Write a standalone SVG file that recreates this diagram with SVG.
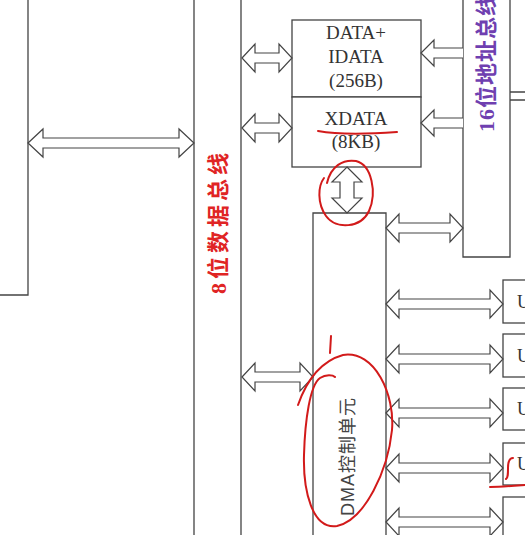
<svg xmlns="http://www.w3.org/2000/svg" width="525" height="535" viewBox="0 0 525 535">
<style>
.ln{fill:none;stroke:#444;stroke-width:1.3}
.bx{fill:#fff;stroke:#444;stroke-width:1.3}
.ar{fill:#fff;stroke:#444;stroke-width:1.2;stroke-linejoin:miter}
.mt{font-family:"Liberation Serif","Noto Sans CJK SC",serif;font-size:19px;fill:#333;text-anchor:middle}
.ut{font-family:"Liberation Serif",serif;font-size:18px;fill:#333}
.red{fill:none;stroke:#d21a1a;stroke-width:2;stroke-linecap:round;stroke-linejoin:round}
</style>
<rect width="525" height="535" fill="#fff"/>

<g id="left-block">
<path class="ln" d="M28,0 V295 H0"/>
</g>

<g id="data-bus">
<path class="ln" d="M194,0 V535 M241,0 V535"/>
<text transform="translate(218,294) rotate(-90)" font-family="'Liberation Serif','Noto Sans CJK SC',serif" font-size="22" font-weight="bold" letter-spacing="4" fill="#e02424" dominant-baseline="central">8位数据总线</text>
</g>

<g id="address-bus">
<path class="ln" d="M463,0 V257 H510 V0 M510,92 H525 M510,100 H525"/>
<text transform="translate(486,132) rotate(-90)" font-family="'Liberation Serif','Noto Sans CJK SC',serif" font-size="22" font-weight="bold" letter-spacing="1" fill="#6f3fb0" dominant-baseline="central">16位地址总线</text>
</g>

<g id="mem-data">
<rect class="bx" x="292" y="20" width="129" height="77"/>
<text class="mt" x="356" y="39">DATA+</text>
<text class="mt" x="356" y="63">IDATA</text>
<text class="mt" x="356" y="87">(256B)</text>
</g>

<g id="mem-xdata">
<rect class="bx" x="292" y="97" width="129" height="70"/>
<text class="mt" x="356" y="125">XDATA</text>
<text class="mt" x="356" y="148">(8KB)</text>
</g>

<g id="dma">
<path class="bx" d="M313,540 V213 H386 V540"/>
<text transform="translate(348,516) rotate(-90)" font-family="'Liberation Sans','Noto Sans CJK SC',sans-serif" font-size="18" letter-spacing="1" fill="#444" dominant-baseline="central">DMA控制单元</text>
</g>

<g id="u1"><rect class="bx" x="503" y="280" width="30" height="43"/><text class="ut" x="517" y="308">U</text></g>
<g id="u2"><rect class="bx" x="503" y="334" width="30" height="43"/><text class="ut" x="517" y="362">U</text></g>
<g id="u3"><rect class="bx" x="503" y="388" width="30" height="42"/><text class="ut" x="517" y="415">U</text></g>
<g id="u4"><rect class="bx" x="503" y="443" width="30" height="42"/><text class="ut" x="517" y="470">U</text></g>
<g id="u5"><rect class="bx" x="503" y="497" width="30" height="45"/></g>

<g id="connectors">
<path class="ar" d="M28,143 L43,129 L43,138 L179,138 L179,129 L194,143 L179,157 L179,148 L43,148 L43,157 Z"/>
<path class="ar" d="M242,58 L255,44 L255,53 L279,53 L279,44 L292,58 L279,72 L279,63 L255,63 L255,72 Z"/>
<path class="ar" d="M242,128 L255,114 L255,123 L279,123 L279,114 L292,128 L279,142 L279,133 L255,133 L255,142 Z"/>
<path class="ar" d="M463,48 L434,48 L434,40 L421,53 L434,66 L434,58 L463,58"/>
<path class="ar" d="M463,118 L434,118 L434,110 L421,123 L434,136 L434,128 L463,128"/>
<path class="ar" d="M347,167 L362,182 L354,182 L354,198 L362,198 L347,213 L332,198 L340,198 L340,182 L332,182 Z"/>
<path class="ar" d="M386,228 L399,214 L399,223 L450,223 L450,214 L463,228 L450,242 L450,233 L399,233 L399,242 Z"/>
<path class="ar" d="M242,377 L255,363 L255,372 L300,372 L300,363 L313,377 L300,391 L300,382 L255,382 L255,391 Z"/>
<path class="ar" d="M386,304 L399,290 L399,299 L490,299 L490,290 L503,304 L490,318 L490,309 L399,309 L399,318 Z"/>
<path class="ar" d="M386,359 L399,345 L399,354 L490,354 L490,345 L503,359 L490,373 L490,364 L399,364 L399,373 Z"/>
<path class="ar" d="M386,413 L399,399 L399,408 L490,408 L490,399 L503,413 L490,427 L490,418 L399,418 L399,427 Z"/>
<path class="ar" d="M386,468 L399,454 L399,463 L490,463 L490,454 L503,468 L490,482 L490,473 L399,473 L399,482 Z"/>
<path class="ar" d="M386,522 L399,508 L399,517 L490,517 L490,508 L503,522 L490,536 L490,527 L399,527 L399,536 Z"/>
</g>

<g id="annotations">
<path class="red" d="M318,131 C340,135 370,134 397,132"/>
<path class="red" d="M327,183 C331,166 343,159 356,161 C372,165 377,193 369,211 C361,228 336,230 326,216 C317,203 318,186 324,178"/>
<path class="red" d="M298,405 C305,385 318,362 343,355 C375,350 395,395 392,430 C388,470 365,520 337,526 C312,530 303,490 304,455 C305,420 310,385 320,378 C326,374 333,375 335,377"/>
<path class="red" d="M331,336 L330,353"/>
<path class="red" d="M513,458 C509,458 508,462 508,468 C508,474 508,478 506,479"/>
<path class="red" d="M490,487 C500,487 512,486 525,485"/>
</g>
</svg>
